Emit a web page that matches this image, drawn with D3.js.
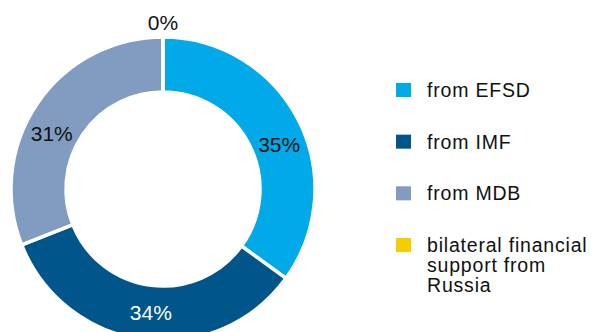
<!DOCTYPE html>
<html>
<head>
<meta charset="utf-8">
<script src="https://cdn.jsdelivr.net/npm/d3@7"></script>
<style>
  body { margin: 0; background: #fff; }
  svg { display: block; font-family: "Liberation Sans", Arial, sans-serif; }
</style>
</head>
<body>
<div id="chart"></div>
<script>
'use strict';

// Chart data
var categories = ['from EFSD', 'from IMF', 'from MDB', 'bilateral financial support from Russia'];
var shares = [35, 34, 31, 0];
var colors = ['#00a9e8', '#00568a', '#819cc0', '#f6cd00'];
// legend labels split into lines
var legendLines = [['from EFSD'], ['from IMF'], ['from MDB'], ['bilateral financial', 'support from', 'Russia']];

var width = 592, height = 332;
var cx = 163, cy = 189, outerR = 152, innerR = 97;

var svg = d3.select('#chart').append('svg')
    .attr('width', width)
    .attr('height', height);

var data = categories.map(function(c, i) {
    return { name: c, value: shares[i], color: colors[i] };
});

var pie = d3.pie()
    .sort(null)
    .value(function(d) { return d.value; });

var arc = d3.arc()
    .innerRadius(innerR)
    .outerRadius(outerR);

var ring = svg.append('g').attr('transform', 'translate(' + cx + ',' + cy + ')');

var arcs = pie(data);

//Slices
ring.selectAll('.slice')
    .data(arcs)
    .enter()
    .append('path')
    .attr('class', 'slice')
    .attr('d', arc)
    .attr('fill', function(d) { return d.data.color; })
    .attr('stroke', '#fff')
    .attr('stroke-width', 3.5);

//Label position: middle of the band, pulled a little toward the nearest axis (like the best-fit labels)
var labelPos = function(d) {
    if (d.value === 0) {
        var r0 = outerR + 15;
        return [Math.sin(d.startAngle) * r0, -Math.cos(d.startAngle) * r0];
    }
    var mid = (d.startAngle + d.endAngle) / 2;
    var axis = Math.round(mid / (Math.PI / 2)) * (Math.PI / 2);
    var a = mid + (axis - mid) * 0.22;
    var r = (innerR + outerR) / 2;
    return [Math.sin(a) * r, -Math.cos(a) * r];
};

//Data labels
ring.selectAll('.label')
    .data(arcs)
    .enter()
    .append('text')
    .attr('class', 'label')
    .attr('transform', function(d) { return 'translate(' + labelPos(d) + ')'; })
    .attr('text-anchor', 'middle')
    .attr('dy', '0.36em')
    .attr('font-size', 21)
    .attr('fill', function(d) { return d.data.name === 'from IMF' ? '#fff' : '#111'; })
    .text(function(d) { return d.value + '%'; });

//Legend
var legendY = d3.scalePoint()
    .domain(categories)
    .range([90, 245]);

var legend = svg.append('g').attr('class', 'legend');

var items = legend.selectAll('.item')
    .data(data)
    .enter()
    .append('g')
    .attr('class', 'item')
    .attr('transform', function(d) { return 'translate(396,' + legendY(d.name) + ')'; });

items.append('rect')
    .attr('x', 0)
    .attr('y', -7)
    .attr('width', 15)
    .attr('height', 14)
    .attr('fill', function(d) { return d.color; });

items.append('text')
    .attr('x', 31)
    .attr('y', 7)
    .attr('font-size', 19.5)
    .attr('letter-spacing', 0.8)
    .attr('fill', '#111')
    .selectAll('tspan')
    .data(function(d, i) { return legendLines[i]; })
    .enter()
    .append('tspan')
    .attr('x', 31)
    .attr('dy', function(d, i) { return i === 0 ? 0 : 20; })
    .text(function(d) { return d; });
</script>
</body>
</html>
